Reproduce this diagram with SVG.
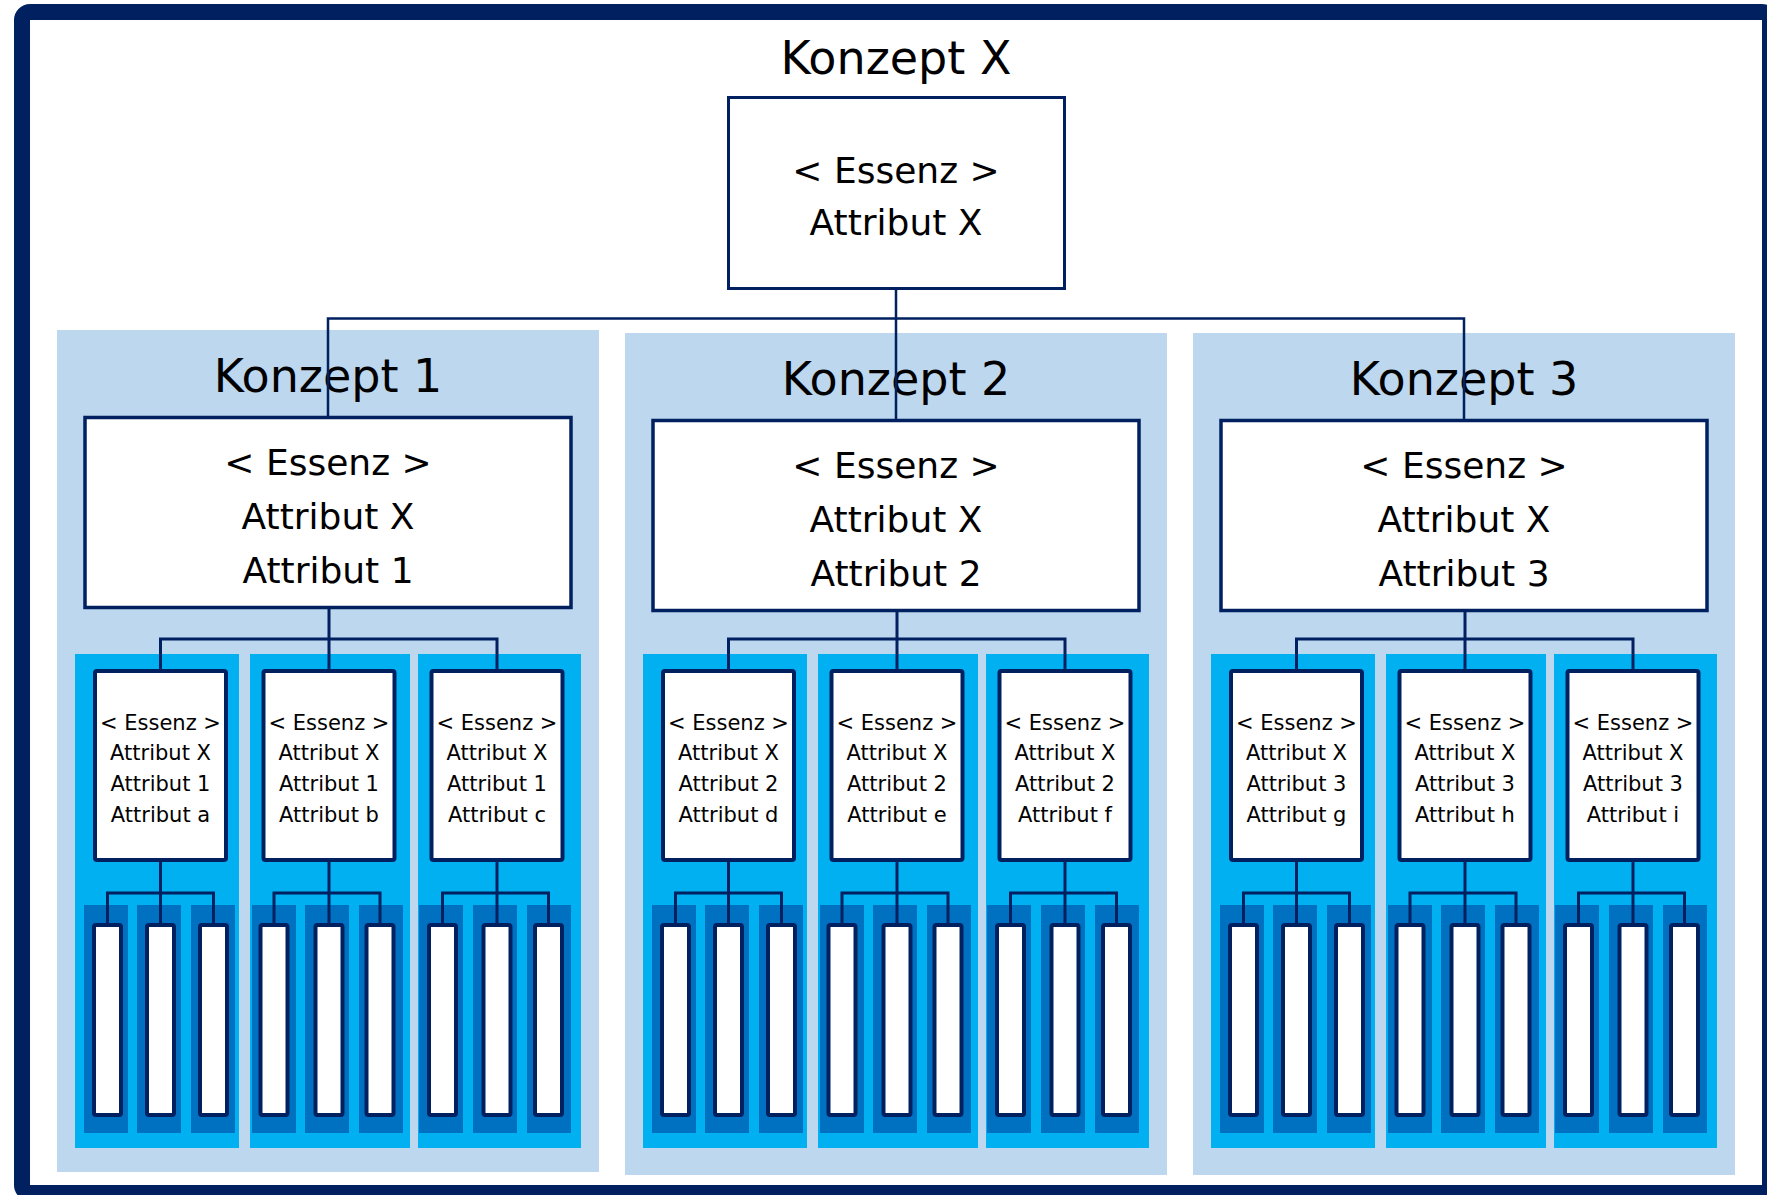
<svg xmlns="http://www.w3.org/2000/svg" width="1767" height="1195" viewBox="0 0 1767 1195">
<style>
text{font-family:"DejaVu Sans","Liberation Sans",sans-serif;fill:#000;text-anchor:middle}
.t1{font-size:46px}
.t2{font-size:36px}
.t3{font-size:21px}
.panel{fill:#BDD7EE}
.col{fill:#00B0F0}
.strip{fill:#0070C0}
.box{fill:#fff;stroke:#002060;stroke-width:3.5}
.sbox{fill:#fff;stroke:#002060;stroke-width:4}
.bar{fill:#fff;stroke:#002060;stroke-width:4}
.con{fill:none;stroke:#002060;stroke-width:3}
</style>
<rect x="22" y="12" width="1748" height="1181" rx="8" fill="#fff" stroke="#002060" stroke-width="16"/>

<g id="konzept-x">
<text class="t1" x="896" y="74">Konzept X</text>
<rect class="box" x="728.5" y="97.5" width="336" height="191" style="stroke-width:3"/>
<text class="t2" x="896" y="183">&lt; Essenz &gt;</text>
<text class="t2" x="896" y="235">Attribut X</text>
</g>

<g id="konzept-1">
<rect class="panel" x="57" y="330" width="542" height="842"/>
<text class="t1" x="328" y="392">Konzept 1</text>
<rect class="box" x="85" y="417.5" width="486" height="190"/>
<text class="t2" x="328" y="475">&lt; Essenz &gt;</text>
<text class="t2" x="328" y="529">Attribut X</text>
<text class="t2" x="328" y="583">Attribut 1</text>
</g>
<g id="konzept-2">
<rect class="panel" x="625" y="333" width="542" height="842"/>
<text class="t1" x="896" y="395">Konzept 2</text>
<rect class="box" x="653" y="420.5" width="486" height="190"/>
<text class="t2" x="896" y="478">&lt; Essenz &gt;</text>
<text class="t2" x="896" y="532">Attribut X</text>
<text class="t2" x="896" y="586">Attribut 2</text>
</g>
<g id="konzept-3">
<rect class="panel" x="1193" y="333" width="542" height="842"/>
<text class="t1" x="1464" y="395">Konzept 3</text>
<rect class="box" x="1221" y="420.5" width="486" height="190"/>
<text class="t2" x="1464" y="478">&lt; Essenz &gt;</text>
<text class="t2" x="1464" y="532">Attribut X</text>
<text class="t2" x="1464" y="586">Attribut 3</text>
</g>

<g id="col-a">
<rect class="col" x="75" y="654" width="164" height="494"/>
<rect class="sbox" x="95" y="671" width="131" height="189" rx="2"/>
<text class="t3" x="160.5" y="730">&lt; Essenz &gt;</text><text class="t3" x="160.5" y="760">Attribut X</text><text class="t3" x="160.5" y="791">Attribut 1</text><text class="t3" x="160.5" y="822">Attribut a</text>
<rect class="strip" x="84" y="905" width="44" height="228"/><rect class="strip" x="137" y="905" width="44" height="228"/><rect class="strip" x="191" y="905" width="44" height="228"/>
<rect class="bar" x="94" y="925" width="27" height="190" rx="2"/><rect class="bar" x="147" y="925" width="27" height="190" rx="2"/><rect class="bar" x="200" y="925" width="27" height="190" rx="2"/>
</g>
<g id="col-b">
<rect class="col" x="250" y="654" width="160" height="494"/>
<rect class="sbox" x="263.5" y="671" width="131" height="189" rx="2"/>
<text class="t3" x="329" y="730">&lt; Essenz &gt;</text><text class="t3" x="329" y="760">Attribut X</text><text class="t3" x="329" y="791">Attribut 1</text><text class="t3" x="329" y="822">Attribut b</text>
<rect class="strip" x="252" y="905" width="44" height="228"/><rect class="strip" x="305" y="905" width="44" height="228"/><rect class="strip" x="359" y="905" width="44" height="228"/>
<rect class="bar" x="260.5" y="925" width="27" height="190" rx="2"/><rect class="bar" x="315.5" y="925" width="27" height="190" rx="2"/><rect class="bar" x="366.5" y="925" width="27" height="190" rx="2"/>
</g>
<g id="col-c">
<rect class="col" x="418" y="654" width="163" height="494"/>
<rect class="sbox" x="431.5" y="671" width="131" height="189" rx="2"/>
<text class="t3" x="497" y="730">&lt; Essenz &gt;</text><text class="t3" x="497" y="760">Attribut X</text><text class="t3" x="497" y="791">Attribut 1</text><text class="t3" x="497" y="822">Attribut c</text>
<rect class="strip" x="419" y="905" width="44" height="228"/><rect class="strip" x="473" y="905" width="44" height="228"/><rect class="strip" x="527" y="905" width="44" height="228"/>
<rect class="bar" x="429" y="925" width="27" height="190" rx="2"/><rect class="bar" x="483.5" y="925" width="27" height="190" rx="2"/><rect class="bar" x="535" y="925" width="27" height="190" rx="2"/>
</g>

<g id="col-d">
<rect class="col" x="643" y="654" width="164" height="494"/>
<rect class="sbox" x="663" y="671" width="131" height="189" rx="2"/>
<text class="t3" x="728.5" y="730">&lt; Essenz &gt;</text><text class="t3" x="728.5" y="760">Attribut X</text><text class="t3" x="728.5" y="791">Attribut 2</text><text class="t3" x="728.5" y="822">Attribut d</text>
<rect class="strip" x="652" y="905" width="44" height="228"/><rect class="strip" x="705" y="905" width="44" height="228"/><rect class="strip" x="759" y="905" width="44" height="228"/>
<rect class="bar" x="662" y="925" width="27" height="190" rx="2"/><rect class="bar" x="715" y="925" width="27" height="190" rx="2"/><rect class="bar" x="768" y="925" width="27" height="190" rx="2"/>
</g>
<g id="col-e">
<rect class="col" x="818" y="654" width="160" height="494"/>
<rect class="sbox" x="831.5" y="671" width="131" height="189" rx="2"/>
<text class="t3" x="897" y="730">&lt; Essenz &gt;</text><text class="t3" x="897" y="760">Attribut X</text><text class="t3" x="897" y="791">Attribut 2</text><text class="t3" x="897" y="822">Attribut e</text>
<rect class="strip" x="820" y="905" width="44" height="228"/><rect class="strip" x="873" y="905" width="44" height="228"/><rect class="strip" x="927" y="905" width="44" height="228"/>
<rect class="bar" x="828.5" y="925" width="27" height="190" rx="2"/><rect class="bar" x="883.5" y="925" width="27" height="190" rx="2"/><rect class="bar" x="934.5" y="925" width="27" height="190" rx="2"/>
</g>
<g id="col-f">
<rect class="col" x="986" y="654" width="163" height="494"/>
<rect class="sbox" x="999.5" y="671" width="131" height="189" rx="2"/>
<text class="t3" x="1065" y="730">&lt; Essenz &gt;</text><text class="t3" x="1065" y="760">Attribut X</text><text class="t3" x="1065" y="791">Attribut 2</text><text class="t3" x="1065" y="822">Attribut f</text>
<rect class="strip" x="987" y="905" width="44" height="228"/><rect class="strip" x="1041" y="905" width="44" height="228"/><rect class="strip" x="1095" y="905" width="44" height="228"/>
<rect class="bar" x="997" y="925" width="27" height="190" rx="2"/><rect class="bar" x="1051.5" y="925" width="27" height="190" rx="2"/><rect class="bar" x="1103" y="925" width="27" height="190" rx="2"/>
</g>

<g id="col-g">
<rect class="col" x="1211" y="654" width="164" height="494"/>
<rect class="sbox" x="1231" y="671" width="131" height="189" rx="2"/>
<text class="t3" x="1296.5" y="730">&lt; Essenz &gt;</text><text class="t3" x="1296.5" y="760">Attribut X</text><text class="t3" x="1296.5" y="791">Attribut 3</text><text class="t3" x="1296.5" y="822">Attribut g</text>
<rect class="strip" x="1220" y="905" width="44" height="228"/><rect class="strip" x="1273" y="905" width="44" height="228"/><rect class="strip" x="1327" y="905" width="44" height="228"/>
<rect class="bar" x="1230" y="925" width="27" height="190" rx="2"/><rect class="bar" x="1283" y="925" width="27" height="190" rx="2"/><rect class="bar" x="1336" y="925" width="27" height="190" rx="2"/>
</g>
<g id="col-h">
<rect class="col" x="1386" y="654" width="160" height="494"/>
<rect class="sbox" x="1399.5" y="671" width="131" height="189" rx="2"/>
<text class="t3" x="1465" y="730">&lt; Essenz &gt;</text><text class="t3" x="1465" y="760">Attribut X</text><text class="t3" x="1465" y="791">Attribut 3</text><text class="t3" x="1465" y="822">Attribut h</text>
<rect class="strip" x="1388" y="905" width="44" height="228"/><rect class="strip" x="1441" y="905" width="44" height="228"/><rect class="strip" x="1495" y="905" width="44" height="228"/>
<rect class="bar" x="1396.5" y="925" width="27" height="190" rx="2"/><rect class="bar" x="1451.5" y="925" width="27" height="190" rx="2"/><rect class="bar" x="1502.5" y="925" width="27" height="190" rx="2"/>
</g>
<g id="col-i">
<rect class="col" x="1554" y="654" width="163" height="494"/>
<rect class="sbox" x="1567.5" y="671" width="131" height="189" rx="2"/>
<text class="t3" x="1633" y="730">&lt; Essenz &gt;</text><text class="t3" x="1633" y="760">Attribut X</text><text class="t3" x="1633" y="791">Attribut 3</text><text class="t3" x="1633" y="822">Attribut i</text>
<rect class="strip" x="1555" y="905" width="44" height="228"/><rect class="strip" x="1609" y="905" width="44" height="228"/><rect class="strip" x="1663" y="905" width="44" height="228"/>
<rect class="bar" x="1565" y="925" width="27" height="190" rx="2"/><rect class="bar" x="1619.5" y="925" width="27" height="190" rx="2"/><rect class="bar" x="1671" y="925" width="27" height="190" rx="2"/>
</g>

<g id="connectors" class="con">
<path d="M896 289V318.5M328 416V318.5H1464V419M896 318.5V419" style="stroke-width:2.5"/>
<path d="M329 609V639M160.5 669V639H497V669M329 639V669"/>
<path d="M160.5 862V923M107.5 923V893H213.5V923"/>
<path d="M329 862V923M274 923V893H380V923"/>
<path d="M497 862V923M442.5 923V893H548.5V923"/>
<path d="M897 612V639M728.5 669V639H1065V669M897 639V669"/>
<path d="M728.5 862V923M675.5 923V893H781.5V923"/>
<path d="M897 862V923M842 923V893H948V923"/>
<path d="M1065 862V923M1010.5 923V893H1116.5V923"/>
<path d="M1465 612V639M1296.5 669V639H1633V669M1465 639V669"/>
<path d="M1296.5 862V923M1243.5 923V893H1349.5V923"/>
<path d="M1465 862V923M1410 923V893H1516V923"/>
<path d="M1633 862V923M1578.5 923V893H1684.5V923"/>
</g>
</svg>
